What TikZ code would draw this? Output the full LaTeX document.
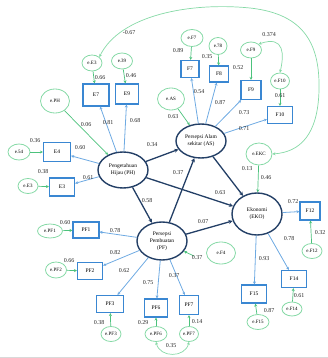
\documentclass[tikz,border=0pt]{standalone}
\usepackage{fontspec}
\setmainfont{Liberation Serif}
\usetikzlibrary{arrows.meta,shapes.geometric}
\definecolor{navy}{HTML}{233F66}
\definecolor{boxblue}{HTML}{3A87D2}
\definecolor{lblue}{HTML}{6EAAE2}
\definecolor{egreen}{HTML}{4CC27C}
\definecolor{lgreen}{HTML}{86D9A6}
\tikzset{
 latent/.style={ellipse, draw=navy, line width=1.4pt, inner sep=0pt, align=center, font=\fontsize{5.5}{7}\selectfont},
 ind/.style={rectangle, draw=boxblue, line width=1.1pt, inner sep=0pt, font=\fontsize{5.5}{6}\selectfont},
 err/.style={ellipse, draw=lgreen, line width=0.8pt, inner sep=0pt, font=\fontsize{5}{6}\selectfont},
 lbl/.style={font=\fontsize{6}{7}\selectfont, inner sep=0.5pt, text=black!85},
 struct/.style={draw=navy, line width=1.3pt, -{Stealth[length=4pt,width=4pt]}},
 load/.style={draw=lblue, line width=0.8pt, -{Stealth[length=3pt,width=3pt]}},
 eload/.style={draw=egreen, line width=0.7pt, -{Stealth[length=3pt,width=3pt]}},
 cov/.style={draw=lgreen, line width=0.7pt, {Stealth[length=3pt,width=3pt]}-{Stealth[length=3pt,width=3pt]}},
}
\newcommand\vlab[4]{\node[lbl] (#1) at (#2,#3) {#4};}
\begin{document}
\begin{tikzpicture}[x=1pt,y=-1pt]
\useasboundingbox (0,0) rectangle (328,358);
\draw[black!15, line width=1pt] (0,357.5) -- (328,357.5);
% latent
\node[latent, minimum width=50pt, minimum height=36pt] (PH) at (123,170) {Pengetahuan\\Hijau (PH)};
\node[latent, minimum width=50pt, minimum height=34pt] (AS) at (201,141) {Persepsi Alam\\sekitar (AS)};
\node[latent, minimum width=50pt, minimum height=38pt] (PF) at (162,241) {Persepsi\\Pembuatan\\(PF)};
\node[latent, minimum width=50pt, minimum height=42pt] (EKO) at (257,214) {Ekonomi\\(EKO)};
% indicators
\node[ind, minimum width=26pt, minimum height=22pt] (E7) at (96,95) {E7};
\node[ind, minimum width=23pt, minimum height=20pt] (E9) at (127,94) {E9};
\node[ind, minimum width=27pt, minimum height=19pt] (E4) at (57,152) {E4};
\node[ind, minimum width=25pt, minimum height=18pt] (E3) at (62,187) {E3};
\node[ind, minimum width=18pt, minimum height=17pt] (F7) at (190,69) {F7};
\node[ind, minimum width=19pt, minimum height=16pt] (F8) at (219,74) {F8};
\node[ind, minimum width=20pt, minimum height=19pt] (F9) at (251,90) {F9};
\node[ind, minimum width=25pt, minimum height=17pt] (F10) at (280,115) {F10};
\node[ind, minimum width=26pt, minimum height=16pt] (PF1) at (86,230) {PF1};
\node[ind, minimum width=25pt, minimum height=17pt] (PF2) at (90,271) {PF2};
\node[ind, minimum width=27pt, minimum height=17pt] (PF3) at (110,304) {PF3};
\node[ind, minimum width=23pt, minimum height=18pt] (PF6) at (156,308) {PF6};
\node[ind, minimum width=19pt, minimum height=19pt] (PF7) at (189,305) {PF7};
\node[ind, minimum width=20pt, minimum height=18pt] (F12) at (310,211) {F12};
\node[ind, minimum width=25pt, minimum height=17pt] (F14) at (294,279) {F14};
\node[ind, minimum width=25pt, minimum height=18pt] (F15) at (254,294) {F15};
% errors
\node[err, minimum width=20pt, minimum height=16pt] (eE3) at (92,63) {e.E3};
\node[err, minimum width=21pt, minimum height=16pt] (e39) at (122,61) {e.39};
\node[err, minimum width=29pt, minimum height=24pt] (ePH) at (55,101) {e.PH};
\node[err, minimum width=22pt, minimum height=17pt] (eF7) at (192,38) {e.F7};
\node[err, minimum width=18pt, minimum height=17pt] (e78) at (218,46) {e.78};
\node[err, minimum width=21pt, minimum height=16pt] (eF9) at (251,50) {e.F9};
\node[err, minimum width=19pt, minimum height=16pt] (eF10) at (280,81) {e.F10};
\node[err, minimum width=27pt, minimum height=22pt] (eAS) at (171,99) {e.AS};
\node[err, minimum width=22pt, minimum height=16pt] (e54) at (19,152) {e.54};
\node[err, minimum width=20pt, minimum height=15pt] (eE3b) at (28,186) {e.E3};
\node[err, minimum width=26pt, minimum height=22pt] (eEKC) at (259,154) {e.EKC};
\node[err, minimum width=25pt, minimum height=14pt] (ePF1) at (50,231) {e.PF1};
\node[err, minimum width=21pt, minimum height=16pt] (ePF2) at (56,270) {e.PF2};
\node[err, minimum width=20pt, minimum height=15pt] (ePF3) at (111,334) {e.PF3};
\node[err, minimum width=22pt, minimum height=15pt] (ePF6) at (156,334) {e.PF6};
\node[err, minimum width=19pt, minimum height=15pt] (ePF7) at (189,334) {e.PF7};
\node[err, minimum width=29pt, minimum height=22pt] (eF4) at (221,253) {e.F4};
\node[err, minimum width=20pt, minimum height=15pt] (eF12) at (312,251) {e.F12};
\node[err, minimum width=20pt, minimum height=14pt] (eF14) at (292,309) {e.F14};
\node[err, minimum width=22pt, minimum height=15pt] (eF15) at (258,322) {e.F15};
\coordinate (stub) at (194,256);
% structural paths
\draw[struct] (PH) -- (AS);
\draw[struct] (PH) -- (PF);
\draw[struct] (PH) -- (EKO);
\draw[struct] (PF) -- (AS);
\draw[struct] (AS) -- (EKO);
\draw[struct] (PF) -- (EKO);
% loadings
\foreach \t in {E7,E9,E4,E3} \draw[load] (PH) -- (\t);
\foreach \t in {F7,F8,F9,F10} \draw[load] (AS) -- (\t);
\foreach \t in {PF1,PF2,PF3,PF6,PF7} \draw[load] (PF) -- (\t);
\foreach \t in {F12,F14,F15} \draw[load] (EKO) -- (\t);
% error paths
\draw[eload] (eE3) -- (E7);
\draw[eload] (e39) -- (E9);
\draw[eload] (eF7) -- (F7);
\draw[eload] (e78) -- (F8);
\draw[eload] (eF9) -- (F9);
\draw[eload] (eF10) -- (F10);
\draw[eload] (e54) -- (E4);
\draw[eload] (eE3b) -- (E3);
\draw[eload] (ePF1) -- (PF1);
\draw[eload] (ePF2) -- (PF2);
\draw[eload] (ePF3) -- (PF3);
\draw[eload] (ePF6) -- (PF6);
\draw[eload] (ePF7) -- (PF7);
\draw[eload] (eF12) -- (F12);
\draw[eload] (eF14) -- (F14);
\draw[eload] (eF15) -- (F15);
\draw[eload] (ePH) -- (PH);
\draw[eload] (eAS) -- (AS);
\draw[eload] (eEKC) -- (EKO);
\draw[eload] (stub) -- (PF);
% covariances
\draw[cov] (eE3.north east) .. controls (120,15) and (190,2) .. (250,8) .. controls (305,14) and (320,45) .. (319,90) .. controls (318,135) and (300,152) .. (eEKC.east);
\draw[cov] (eF9.north east) .. controls (285,35) and (284,55) .. (eF10.north);
\draw[cov] (ePF6.south) .. controls (160,358) and (185,358) .. (ePF7.south);
% labels
\vlab{l1}{100}{78}{0.66}
\vlab{l2}{131}{76}{0.46}
\vlab{l3}{129}{33}{-0.67}
\vlab{l4}{178}{51}{0.89}
\vlab{l5}{207}{57}{0.35}
\vlab{l6}{269}{35}{0.374}
\vlab{l7}{238}{68}{0.52}
\vlab{l8}{280}{96}{0.61}
\vlab{l9}{199}{92}{0.54}
\vlab{l10}{220}{103}{0.87}
\vlab{l11}{244}{113}{0.73}
\vlab{l12}{244}{129}{0.71}
\vlab{l13}{173}{117}{0.63}
\vlab{l14}{86}{125}{0.06}
\vlab{l15}{108}{123}{0.81}
\vlab{l16}{135}{121}{0.68}
\vlab{l17}{35}{141}{0.36}
\vlab{l18}{80}{148}{0.60}
\vlab{l19}{43}{172}{0.38}
\vlab{l20}{88}{178}{0.61}
\vlab{l21}{152}{145}{0.34}
\vlab{l22}{178}{173}{0.37}
\vlab{l23}{247}{169}{0.13}
\vlab{l24}{220}{193}{0.63}
\vlab{l25}{147}{201}{0.58}
\vlab{l26}{203}{222}{0.07}
\vlab{l27}{197}{258}{0.37}
\vlab{l28}{266}{178}{0.46}
\vlab{l29}{293}{202}{0.72}
\vlab{l30}{320}{233}{0.32}
\vlab{l31}{289}{239}{0.78}
\vlab{l32}{264}{259}{0.93}
\vlab{l33}{299}{296}{0.61}
\vlab{l34}{269}{311}{0.87}
\vlab{l35}{65}{223}{0.60}
\vlab{l36}{115}{231}{0.78}
\vlab{l37}{69}{261}{0.66}
\vlab{l38}{115}{253}{0.82}
\vlab{l39}{124}{271}{0.62}
\vlab{l40}{148}{283}{0.75}
\vlab{l41}{174}{276}{0.37}
\vlab{l42}{99}{323}{0.38}
\vlab{l43}{143}{323}{0.29}
\vlab{l44}{197}{322}{0.14}
\vlab{l45}{171}{346}{0.35}
\end{tikzpicture}
\end{document}
